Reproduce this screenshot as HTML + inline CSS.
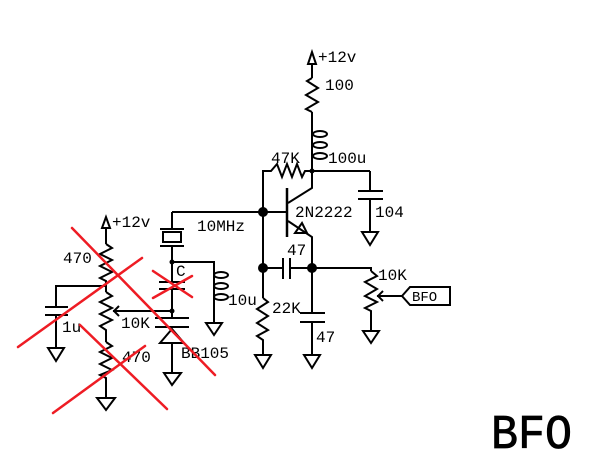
<!DOCTYPE html>
<html><head><meta charset="utf-8"><style>
html,body{margin:0;padding:0;background:#fff;}
svg{display:block;}
text{font-family:"Liberation Mono",monospace;font-size:16px;fill:#000;}
</style></head><body>
<svg width="606" height="468" viewBox="0 0 606 468" xmlns="http://www.w3.org/2000/svg">
<rect width="606" height="468" fill="#fff"/>
<g fill="none" stroke="#000" stroke-width="2" stroke-linejoin="miter">
<!-- top supply -->
<polygon points="312,52 308,64 316,64"/>
<line x1="312" y1="64" x2="312" y2="78"/>
<polyline points="312,78 307,81 318,88 306,95 318,102 306,109 312,112"/>
<line x1="312" y1="112" x2="312" y2="171"/>
<ellipse cx="320" cy="134" rx="7" ry="3"/>
<ellipse cx="320" cy="145" rx="7" ry="3"/>
<ellipse cx="320" cy="156" rx="7" ry="3"/>
<!-- collector rail to 104 -->
<line x1="312" y1="171" x2="370" y2="171"/>
<line x1="370" y1="171" x2="370" y2="191"/>
<line x1="358" y1="191" x2="383" y2="191"/>
<line x1="358" y1="199" x2="383" y2="199"/>
<line x1="370" y1="199" x2="370" y2="232"/>
<polygon points="362,232 378,232 370,245"/>
<!-- 47K -->
<polyline points="312,171 305,171 302,177 297,164 292,177 287,164 282,177 277,164 271,171 263,171 263,298"/>
<!-- transistor -->
<line x1="287" y1="188" x2="287" y2="237" stroke-width="2.5"/>
<line x1="172" y1="212" x2="287" y2="212"/>
<polyline points="288,203 312,188 312,171"/>
<polyline points="288,221 312,237 312,268"/>
<polygon points="295,233 307,233 302,223"/>
<!-- 47 cap between -->
<line x1="263" y1="268" x2="283" y2="268"/>
<line x1="283" y1="258" x2="283" y2="279"/>
<line x1="290" y1="258" x2="290" y2="279"/>
<polyline points="290,268 371,268 371,271"/>
<!-- 22K -->
<polyline points="263,298 268,302 257,309 268,316 257,323 268,330 257,336 263,340 263,355"/>
<polygon points="255,355 271,355 263,368"/>
<!-- lower 47 -->
<line x1="312" y1="268" x2="312" y2="313"/>
<line x1="300" y1="313" x2="325" y2="313"/>
<line x1="300" y1="322" x2="325" y2="322"/>
<line x1="312" y1="322" x2="312" y2="355"/>
<polygon points="304,355 320,355 312,368"/>
<!-- pot 10K right -->
<polyline points="371,271 377,276 365,282 377,289 365,296 377,302 365,308 371,311 371,331"/>
<polygon points="363,331 379,331 371,343"/>
<line x1="377" y1="296" x2="402" y2="296"/>
<polyline points="383,291 378,296 383,301"/>
<polygon points="402,296 410,287 450,287 450,305 410,305"/>
<!-- crystal column -->
<line x1="172" y1="212" x2="172" y2="229"/>
<line x1="160" y1="229" x2="184" y2="229"/>
<rect x="163" y="232" width="18" height="10"/>
<line x1="160" y1="246" x2="184" y2="246"/>
<line x1="172" y1="246" x2="172" y2="282"/>
<line x1="159" y1="282" x2="185" y2="282"/>
<line x1="159" y1="289" x2="185" y2="289"/>
<line x1="172" y1="289" x2="172" y2="318"/>
<polyline points="172,262 214,262 214,323"/>
<ellipse cx="221" cy="275" rx="7" ry="3"/>
<ellipse cx="221" cy="286" rx="7" ry="3"/>
<ellipse cx="221" cy="297" rx="7" ry="3"/>
<polygon points="206,323 222,323 214,335"/>
<!-- varicap -->
<line x1="155" y1="318" x2="189" y2="318"/>
<line x1="155" y1="327" x2="189" y2="327"/>
<polygon points="172,329 160,343 184,343"/>
<line x1="172" y1="343" x2="172" y2="373"/>
<polygon points="164,373 181,373 172,385"/>
<!-- left pot -->
<polygon points="106,217 102,228 110,228"/>
<line x1="106" y1="228" x2="106" y2="244"/>
<polyline points="106,244 112,248 100,254 112,260 100,266 112,272 100,278 106,281 106,292"/>
<polyline points="106,292 112,296 100,302 112,308 100,314 112,320 100,326 106,330 106,342"/>
<polyline points="106,342 112,346 100,352 112,358 100,364 112,370 100,375 106,378 106,398"/>
<polygon points="97,398 115,398 106,410"/>
<polyline points="106,286 56,286 56,307"/>
<line x1="45" y1="307" x2="68" y2="307"/>
<line x1="45" y1="315" x2="68" y2="315"/>
<line x1="56" y1="315" x2="56" y2="348"/>
<polygon points="48,348 64,348 56,361"/>
<line x1="113" y1="311" x2="172" y2="311"/>
<polyline points="119,306 114,311 119,316"/>
</g>
<!-- junction dots -->
<g fill="#000">
<circle cx="263" cy="212" r="5"/>
<circle cx="263" cy="268" r="5"/>
<circle cx="312" cy="268" r="5"/>
<circle cx="312" cy="171" r="2.5"/>
<circle cx="172" cy="262" r="2.5"/>
<circle cx="172" cy="311" r="2.5"/>
</g>
<!-- labels -->
<text x="318" y="62">+12v</text>
<text x="325" y="90">100</text>
<text x="328" y="163">100u</text>
<text x="271" y="163">47K</text>
<text x="295" y="217">2N2222</text>
<text x="375" y="217">104</text>
<text x="197" y="231">10MHz</text>
<text x="287" y="255">47</text>
<text x="272" y="313">22K</text>
<text x="316" y="342">47</text>
<text x="378" y="280">10K</text>
<text x="412" y="301" style="font-size:14px">BFO</text>
<text x="112" y="227">+12v</text>
<text x="63" y="263">470</text>
<text x="62" y="332">1u</text>
<text x="121" y="328">10K</text>
<text x="122" y="362">470</text>
<text x="176" y="276">C</text>
<text x="228" y="305">10u</text>
<text x="181" y="358">BB105</text>
<text x="491" y="448" textLength="81" lengthAdjust="spacingAndGlyphs" style="font-size:48px" stroke="#000" stroke-width="0.8">BFO</text>
<!-- red crosses -->
<g stroke="#ee1c24" stroke-width="2.5" stroke-linecap="round" fill="none">
<line x1="72" y1="228" x2="215" y2="375"/>
<line x1="18" y1="347" x2="142" y2="258"/>
<line x1="80" y1="325" x2="167" y2="409"/>
<line x1="53" y1="413" x2="145" y2="346"/>
<line x1="153" y1="271" x2="192" y2="297"/>
<line x1="192" y1="276" x2="153" y2="298"/>
</g>
</svg>
</body></html>
